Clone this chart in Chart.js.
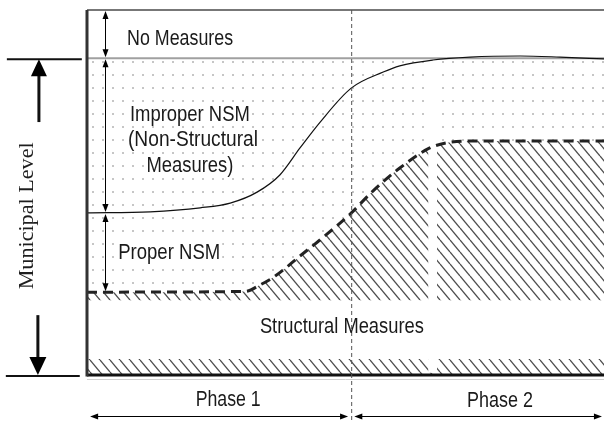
<!DOCTYPE html>
<html>
<head>
<meta charset="utf-8">
<script src="https://cdn.jsdelivr.net/npm/chart.js@4.4.1/dist/chart.umd.min.js"></script>
<style>
body { margin: 0; background: #fff; }
canvas { display: block; }
</style>
</head>
<body>
<canvas id="chart" width="604" height="423"></canvas>
<script>
// x runs 0-100 across the two phases, y runs 0-100 up the municipal level
var solidX = [0, 12.2, 21.9, 27.7, 32.9, 37.3, 41.2, 45.1, 51.1, 57.3, 60.5, 66.9, 74.1, 83.8, 91.5, 100];
var solidY = [44.4, 44.7, 45.8, 47.1, 50.1, 54.8, 62.2, 69.3, 78.6, 83.0, 84.7, 86.3, 87.1, 87.4, 87.1, 86.6];

var dashX = [0, 30.6, 33.5, 36.4, 41.2, 46.0, 50.9, 55.3, 60.5, 66.3, 69.6, 74.1, 100];
var dashY = [22.7, 22.9, 24.7, 27.1, 32.6, 38.1, 44.1, 50.4, 56.7, 62.2, 63.6, 64.1, 64.1];

var topLevel = 100;
var noMeasuresLevel = 86.8;
var bandTop = 20.5;
var bandBottom = 4.4;
var phaseSplit = 51.1;

var regionLabels = ['No Measures', 'Improper NSM', '(Non-Structural', 'Measures)', 'Proper NSM', 'Structural Measures'];
var phaseLabels = ['Phase 1', 'Phase 2'];
var axisLabel = 'Municipal Level';

function pts(xs, ys) {
  return xs.map(function (x, i) { return { x: x, y: ys[i] }; });
}
function flat(v) {
  return [{ x: 0, y: v }, { x: 100, y: v }];
}

var canvas = document.getElementById('chart');
var ctx = canvas.getContext('2d');

function hatch() {
  var c = document.createElement('canvas');
  c.width = 10; c.height = 12;
  var g = c.getContext('2d');
  g.strokeStyle = '#4d4d4d';
  g.lineWidth = 1.3;
  for (var k = -1; k <= 1; k++) {
    g.beginPath();
    g.moveTo(k * 10, 0);
    g.lineTo(k * 10 + 10, 12);
    g.stroke();
  }
  return ctx.createPattern(c, 'repeat');
}
function dots() {
  var c = document.createElement('canvas');
  c.width = 10; c.height = 13;
  var g = c.getContext('2d');
  g.fillStyle = '#c6c6c6';
  g.fillRect(2, 9, 2, 2);
  return ctx.createPattern(c, 'repeat');
}

function head(c, x, y, dir, w, l) {
  c.beginPath();
  c.moveTo(x, y);
  if (dir === 'up') { c.lineTo(x - w / 2, y + l); c.lineTo(x + w / 2, y + l); }
  if (dir === 'down') { c.lineTo(x - w / 2, y - l); c.lineTo(x + w / 2, y - l); }
  if (dir === 'left') { c.lineTo(x + l, y - w / 2); c.lineTo(x + l, y + w / 2); }
  if (dir === 'right') { c.lineTo(x - l, y - w / 2); c.lineTo(x - l, y + w / 2); }
  c.closePath();
  c.fill();
}

function label(c, text, px, py, w, box) {
  c.save();
  c.font = '22px "Liberation Sans", Arial, sans-serif';
  var m = c.measureText(text).width;
  if (box) {
    c.fillStyle = '#fff';
    c.fillRect(px - w / 2 - 2, py - 18, w + 4, 23);
  }
  c.translate(px, py);
  c.scale(w / m, 1);
  c.fillStyle = '#1a1a1a';
  c.textAlign = 'center';
  c.textBaseline = 'alphabetic';
  c.fillText(text, 0, 0);
  c.restore();
}

var decor = {
  id: 'decor',
  beforeDatasetDraw: function (chart, args) {
    if (args.index !== 1) return;
    // blank column in the hatching, as in the scanned figure
    var sx = chart.scales.x, sy = chart.scales.y, c = chart.ctx;
    var l = sx.getPixelForValue(66.0), r = sx.getPixelForValue(67.7);
    var t = sy.getPixelForValue(noMeasuresLevel - 0.6), b = sy.getPixelForValue(0.6);
    c.save();
    c.fillStyle = '#fff';
    c.fillRect(l, t, r - l, b - t);
    c.restore();
  },
  afterDraw: function (chart) {
    var sx = chart.scales.x, sy = chart.scales.y, c = chart.ctx;
    var X = function (v) { return sx.getPixelForValue(v); };
    var Y = function (v) { return sy.getPixelForValue(v); };
    c.save();

    // frame
    c.strokeStyle = '#777';
    c.lineWidth = 2;
    c.beginPath(); c.moveTo(X(0), Y(topLevel)); c.lineTo(X(100), Y(topLevel)); c.stroke();
    c.strokeStyle = '#d0d0d0';
    c.lineWidth = 1;
    c.beginPath(); c.moveTo(X(0), Y(0) + 4.5); c.lineTo(X(100), Y(0) + 4.5); c.stroke();
    c.strokeStyle = '#111';
    c.lineWidth = 3;
    c.beginPath(); c.moveTo(X(0), Y(0)); c.lineTo(X(100), Y(0)); c.stroke();
    c.strokeStyle = '#333';
    c.beginPath(); c.moveTo(X(0), Y(topLevel)); c.lineTo(X(0), Y(0) + 1.5); c.stroke();

    // phase divider
    c.strokeStyle = '#555';
    c.lineWidth = 1;
    c.setLineDash([4, 3]);
    c.beginPath(); c.moveTo(X(phaseSplit) + 0.5, Y(topLevel)); c.lineTo(X(phaseSplit) + 0.5, chart.height); c.stroke();
    c.setLineDash([]);

    // region labels
    label(c, regionLabels[0], X(18.0), Y(90.4), 106, false);
    label(c, regionLabels[1], X(19.9), Y(69.6), 120, true);
    label(c, regionLabels[2], X(20.5), Y(62.7), 130, true);
    label(c, regionLabels[3], X(19.9), Y(55.6), 87, true);
    label(c, regionLabels[4], X(15.9), Y(31.8), 102, true);
    label(c, regionLabels[5], X(49.3), Y(11.5), 164, false);
    label(c, phaseLabels[0], X(27.3), Y(-8.5), 65, false);
    label(c, phaseLabels[1], X(79.9), Y(-8.8), 66, false);

    // double arrows marking each band
    c.strokeStyle = '#000';
    c.fillStyle = '#000';
    c.lineWidth = 1;
    var ax = Math.round(X(3.5)) + 0.5;
    var bands = [[topLevel, noMeasuresLevel], [noMeasuresLevel, solidY[0]], [solidY[0], dashY[0]]];
    bands.forEach(function (b) {
      var t = Y(b[0]) + 1, btm = Y(b[1]) - 1;
      c.beginPath(); c.moveTo(ax, t + 4); c.lineTo(ax, btm - 4); c.stroke();
      head(c, ax, t, 'up', 6, 8);
      head(c, ax, btm, 'down', 6, 8);
    });

    // phase arrows
    var py = Math.round(Y(-11.2)) + 0.5;
    c.beginPath(); c.moveTo(X(0.6) + 6, py); c.lineTo(X(50.5) - 6, py); c.stroke();
    head(c, X(0.6), py, 'left', 6, 8);
    head(c, X(50.5), py, 'right', 6, 8);
    c.beginPath(); c.moveTo(X(51.7) + 6, py); c.lineTo(X(99.6) - 6, py); c.stroke();
    head(c, X(51.7), py, 'left', 6, 8);
    head(c, X(99.6), py, 'right', 6, 8);

    // municipal level axis on the left
    c.strokeStyle = '#111';
    c.lineWidth = 2;
    c.beginPath(); c.moveTo(X(-15.5), Y(noMeasuresLevel) + 1); c.lineTo(X(-1.0), Y(noMeasuresLevel) + 1); c.stroke();
    c.beginPath(); c.moveTo(X(-15.7), Y(0) + 1); c.lineTo(X(-1.4), Y(0) + 1); c.stroke();
    c.lineWidth = 3;
    c.fillStyle = '#000';
    var ux = X(-9.3);
    c.beginPath(); c.moveTo(ux, Y(69.3)); c.lineTo(ux, Y(noMeasuresLevel) + 14); c.stroke();
    head(c, ux, Y(noMeasuresLevel) + 1, 'up', 16, 17);
    var dx = X(-9.5);
    c.beginPath(); c.moveTo(dx, Y(16.4)); c.lineTo(dx, Y(0) - 14); c.stroke();
    head(c, dx, Y(0), 'down', 17, 18);

    c.save();
    c.translate(X(-10.4), Y(43.6));
    c.rotate(-Math.PI / 2);
    c.font = '20px "Liberation Serif", "Times New Roman", serif';
    var m = c.measureText(axisLabel).width;
    c.scale(147 / m, 1);
    c.fillStyle = '#1e1e1e';
    c.textAlign = 'center';
    c.textBaseline = 'alphabetic';
    c.fillText(axisLabel, 0, 0);
    c.restore();

    c.restore();
  }
};

var hatchFill = hatch();
var dotFill = dots();

new Chart(ctx, {
  type: 'line',
  data: {
    datasets: [
      { label: 'NSM total', data: pts(solidX, solidY), borderColor: '#111', borderWidth: 1.2, fill: false, cubicInterpolationMode: 'monotone' },
      { label: 'Structural', data: pts(dashX, dashY), borderColor: '#222', borderWidth: 3, borderDash: [10, 6], fill: { target: 3 }, backgroundColor: hatchFill, cubicInterpolationMode: 'monotone' },
      { label: 'No measures', data: flat(noMeasuresLevel), borderColor: '#a0a0a0', borderWidth: 2, fill: { target: 1 }, backgroundColor: dotFill },
      { label: 'band top', data: flat(bandTop), borderWidth: 0, borderColor: 'rgba(0,0,0,0)', fill: false },
      { label: 'band bottom', data: flat(bandBottom), borderWidth: 0, borderColor: 'rgba(0,0,0,0)', fill: { value: 0 }, backgroundColor: hatchFill }
    ]
  },
  options: {
    responsive: false,
    animation: false,
    events: [],
    layout: { padding: { left: 87, top: 10, right: 0, bottom: 48 } },
    elements: { point: { radius: 0 } },
    plugins: { legend: { display: false }, tooltip: { enabled: false } },
    scales: {
      x: { type: 'linear', min: 0, max: 100, display: false },
      y: { type: 'linear', min: 0, max: 100, display: false }
    }
  },
  plugins: [decor]
});
</script>
</body>
</html>
